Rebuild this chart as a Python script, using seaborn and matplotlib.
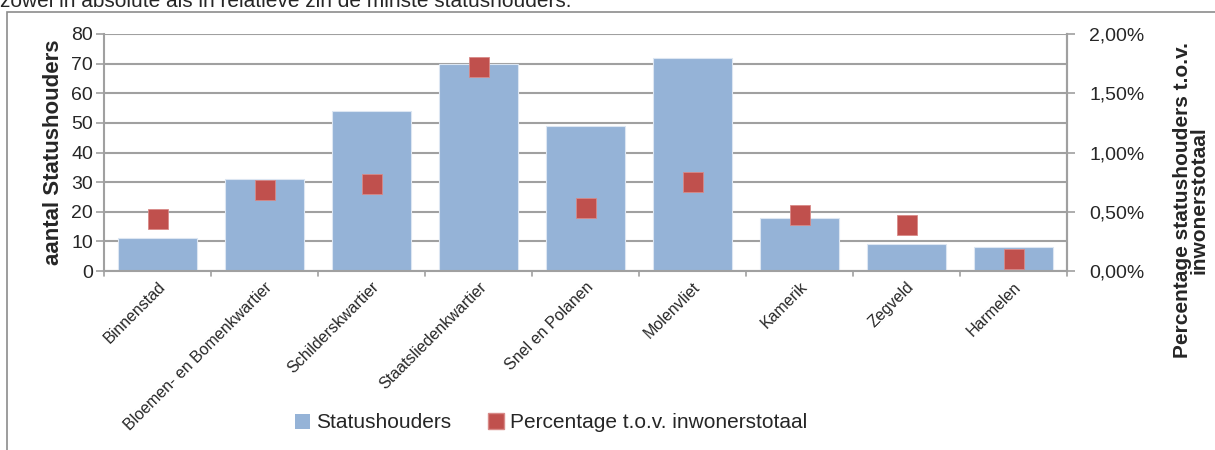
import pandas as pd
import seaborn as sns
import matplotlib.pyplot as plt
from matplotlib.patches import Patch, Rectangle
from matplotlib.lines import Line2D
from matplotlib.ticker import FuncFormatter, MultipleLocator

wijken = ["Binnenstad", "Bloemen- en Bomenkwartier", "Schilderskwartier",
          "Staatsliedenkwartier", "Snel en Polanen", "Molenvliet",
          "Kamerik", "Zegveld", "Harmelen"]
statushouders = [11, 31, 54, 70, 49, 72, 18, 9, 8]
percentage = [0.44, 0.68, 0.73, 1.72, 0.53, 0.75, 0.47, 0.39, 0.10]

df = pd.DataFrame({"wijk": wijken, "aantal": statushouders, "pct": percentage})

sns.set_style("white")
plt.rcParams['font.family'] = ['Liberation Sans', 'DejaVu Sans']

blue = "#95B3D7"
red = "#C0504D"
grid = "#A0A0A0"

fig = plt.figure(figsize=(12.15, 4.5), dpi=100)
ax = fig.add_axes([104/1215, 1-271/450, (1067-104)/1215, (271-34)/450])

sns.barplot(data=df, x="wijk", y="aantal", color=blue, width=0.74,
            saturation=1, edgecolor="#DCE6F2", linewidth=0.8, ax=ax, zorder=2)
ax.set_ylim(0, 80)
ax.set_xlim(-0.5, len(wijken) - 0.5)
ax.yaxis.set_major_locator(MultipleLocator(10))
ax.grid(axis="y", color=grid, linewidth=1.5, zorder=0)
ax.set_axisbelow(True)
ax.set_xlabel("")
ax.set_ylabel("aantal Statushouders", fontsize=16, fontweight="bold", labelpad=5)
ax.tick_params(axis="y", labelsize=14, length=6, color=grid, width=1.2, direction="out", left=True, pad=2)
ax.set_xticks(range(len(wijken)))
ax.set_xticklabels(wijken, rotation=45, ha="right", rotation_mode="anchor", fontsize=11.5)
ax.tick_params(axis="x", length=0, pad=6)
# ticks between categories
for b in [i + 0.5 for i in range(-1, len(wijken))]:
    ax.plot([b, b], [0, -1.8], color=grid, linewidth=1.2, clip_on=False)
ax.spines["top"].set_visible(False)
for s in ["left", "bottom", "right"]:
    ax.spines[s].set_color(grid)
    ax.spines[s].set_linewidth(1.5)

ax2 = ax.twinx()
sns.pointplot(data=df, x="wijk", y="pct", linestyle="none", marker="s",
              markersize=14, color=red, markeredgecolor="#D88A88",
              markeredgewidth=0.6, ax=ax2, zorder=5)
ax2.set_ylim(0, 2)
ax2.set_xlim(-0.5, len(wijken) - 0.5)
ax2.yaxis.set_major_locator(MultipleLocator(0.5))
ax2.yaxis.set_major_formatter(FuncFormatter(lambda v, p: f"{v:.2f}%".replace(".", ",")))
ax2.tick_params(axis="y", labelsize=14, length=6, color=grid, width=1.2, direction="out", right=True, pad=10)
ax2.set_ylabel("Percentage statushouders t.o.v.\ninwonerstotaal", fontsize=15,
               fontweight="bold", linespacing=0.85)
ax2.yaxis.set_label_coords((1173 - 104) / 963, (271 - 200) / 237)
ax2.set_xlabel("")
for s in ["top", "left", "bottom"]:
    ax2.spines[s].set_visible(False)
ax2.spines["right"].set_color(grid)
ax2.spines["right"].set_linewidth(1.5)

handles = [Patch(facecolor=blue, edgecolor="none", label="Statushouders"),
           Line2D([], [], linestyle="none", marker="s", markersize=12, color=red,
                  markeredgecolor="#D88A88", label="Percentage t.o.v. inwonerstotaal")]
fig.legend(handles=handles, loc="center", bbox_to_anchor=(551/1215, 1-423/450),
           ncol=2, frameon=False, fontsize=15, handlelength=0.7, handleheight=0.7,
           handletextpad=0.3, columnspacing=1.8)

fig.patches.append(Rectangle((7/1215, -0.1), 1.2, 1.1 - 12/450, transform=fig.transFigure,
                             fill=False, edgecolor="#8C8C8C", linewidth=1.2))
fig.text(0.0, 1 - 7/450, "zowel in absolute als in relatieve zin de minste statushouders.",
         fontsize=15, va="baseline", ha="left")

fig.savefig("out.png", dpi=100)
